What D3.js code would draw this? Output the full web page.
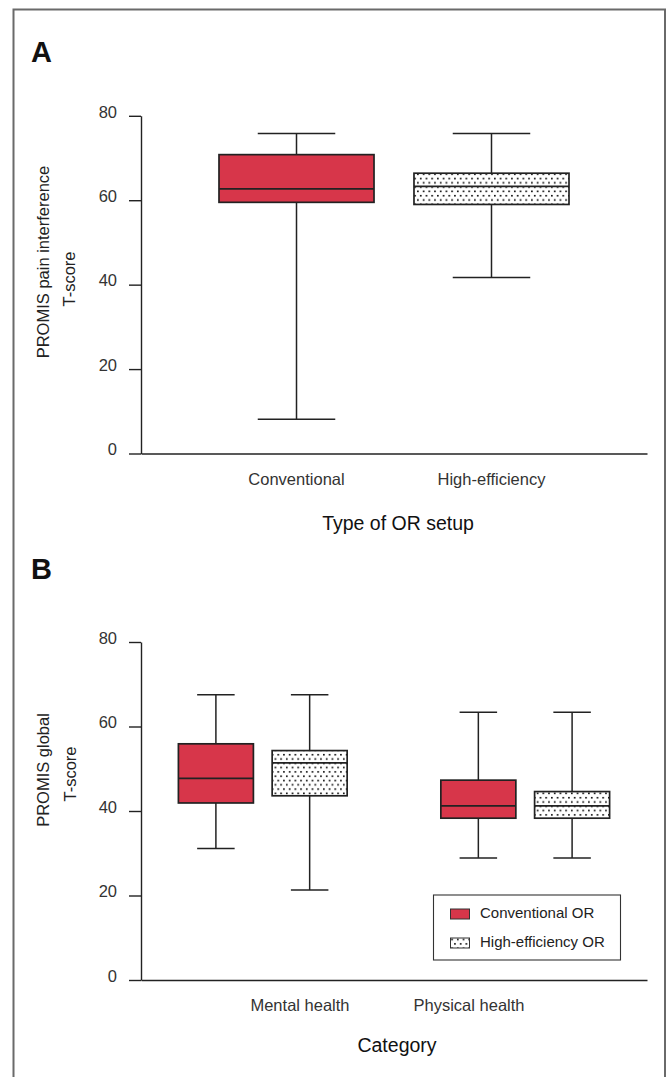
<!DOCTYPE html>
<html>
<head>
<meta charset="utf-8">
<script src="https://cdn.jsdelivr.net/npm/d3@7"></script>
<style>
  html, body { margin: 0; padding: 0; background: #fff; }
  svg { display: block; font-family: "Liberation Sans", Arial, Helvetica, sans-serif; }
</style>
</head>
<body>
<svg id="chart" width="669" height="1077"></svg>
<script>
// ---------- Data ----------
const yTicks = [0, 20, 40, 60, 80];

// Panel A: PROMIS pain interference T-score by OR setup
const panelACategories = ["Conventional", "High-efficiency"];
const panelAMin    = [8.1, 41.7];
const panelAQ1     = [59.5, 59.0];
const panelAMedian = [62.7, 63.3];
const panelAQ3     = [70.8, 66.4];
const panelAMax    = [75.8, 75.8];

// Panel B: PROMIS global T-score by category
const panelBCategories = ["Mental health", "Physical health"];
const panelBSeries = ["Conventional OR", "High-efficiency OR"];
const convMin    = [31.1, 28.9];
const convQ1     = [41.9, 38.3];
const convMedian = [47.7, 41.2];
const convQ3     = [55.9, 47.3];
const convMax    = [67.5, 63.4];
const heMin      = [21.3, 28.9];
const heQ1       = [43.6, 38.3];
const heMedian   = [51.4, 41.2];
const heQ3       = [54.3, 44.6];
const heMax      = [67.5, 63.4];

// ---------- Styles ----------
const RED = "#d7364a";
const INK = "#222";
const svg = d3.select("#chart");

// dotted pattern
const defs = svg.append("defs");
const pat = defs.append("pattern")
  .attr("id", "dots").attr("patternUnits", "userSpaceOnUse")
  .attr("width", 5.7).attr("height", 8.6);
pat.append("rect").attr("width", 5.7).attr("height", 8.6).attr("fill", "#fff");
pat.append("rect").attr("x", 1).attr("y", 1.4).attr("width", 1.6).attr("height", 1.6).attr("fill", "#000");
pat.append("rect").attr("x", 3.85).attr("y", 5.7).attr("width", 1.6).attr("height", 1.6).attr("fill", "#000");

// frame (open at the bottom)
svg.append("path")
  .attr("d", "M13.5,1077 V9.5 H665 V1077")
  .attr("fill", "none").attr("stroke", "#6a6a6a").attr("stroke-width", 2);

function fillFor(seriesIndex) { return seriesIndex === 0 ? RED : "url(#dots)"; }

function drawYAxis(g, y, x0) {
  const ax = g.append("g").attr("transform", `translate(${x0},0)`)
    .call(d3.axisLeft(y).tickValues(yTicks).tickSize(12).tickSizeOuter(0).tickPadding(12));
  ax.select(".domain").attr("stroke", INK).attr("stroke-width", 1.4);
  ax.selectAll(".tick line").attr("stroke", INK).attr("stroke-width", 1.4);
  ax.selectAll(".tick text").attr("font-size", 16.5).attr("fill", "#333")
    .attr("font-family", "Liberation Sans, Arial, sans-serif").attr("y", -4);
}

function drawXAxis(g, x, y0) {
  const ax = g.append("g").attr("transform", `translate(0,${y0})`)
    .call(d3.axisBottom(x).tickSize(0).tickSizeOuter(0).tickFormat(""));
  ax.select(".domain").attr("stroke", INK).attr("stroke-width", 1.4);
  ax.selectAll(".tick").remove();
}

function drawBox(g, cx, w, y, mn, q1, md, q3, mx, fill) {
  const cap = w / 2;
  g.append("line").attr("x1", cx).attr("x2", cx).attr("y1", y(mx)).attr("y2", y(mn))
    .attr("stroke", INK).attr("stroke-width", 1.5);
  g.append("line").attr("x1", cx - cap / 2).attr("x2", cx + cap / 2).attr("y1", y(mx)).attr("y2", y(mx))
    .attr("stroke", INK).attr("stroke-width", 1.5);
  g.append("line").attr("x1", cx - cap / 2).attr("x2", cx + cap / 2).attr("y1", y(mn)).attr("y2", y(mn))
    .attr("stroke", INK).attr("stroke-width", 1.5);
  g.append("rect").attr("x", cx - w / 2).attr("width", w)
    .attr("y", y(q3)).attr("height", y(q1) - y(q3))
    .attr("fill", fill).attr("stroke", INK).attr("stroke-width", 1.7);
  g.append("line").attr("x1", cx - w / 2).attr("x2", cx + w / 2).attr("y1", y(md)).attr("y2", y(md))
    .attr("stroke", INK).attr("stroke-width", 1.7);
}

// ---------- Panel A ----------
{
  const g = svg.append("g");
  const y = d3.scaleLinear().domain([0, 80]).range([453.5, 115.8]);
  const x = d3.scaleBand().domain(panelACategories).range([141, 647])
    .paddingInner(0.205).paddingOuter(0.4);

  g.append("text").attr("x", 31).attr("y", 62).attr("font-size", 29).attr("font-weight", "bold")
    .attr("fill", "#111").text("A");

  drawYAxis(g, y, 141);
  drawXAxis(g, x, y(0));

  panelACategories.forEach((c, i) => {
    const cx = x(c) + x.bandwidth() / 2;
    drawBox(g, cx, x.bandwidth(), y, panelAMin[i], panelAQ1[i], panelAMedian[i], panelAQ3[i], panelAMax[i], fillFor(i));
    g.append("text").attr("x", cx).attr("y", 485).attr("text-anchor", "middle")
      .attr("font-size", 16.5).attr("fill", "#333").text(c);
  });

  g.append("text").attr("x", 398).attr("y", 530).attr("text-anchor", "middle")
    .attr("font-size", 19.5).attr("fill", "#111").text("Type of OR setup");

  g.append("text").attr("transform", "translate(48.5,262) rotate(-90)").attr("text-anchor", "middle")
    .attr("font-size", 16.5).attr("fill", "#222").text("PROMIS pain interference");
  g.append("text").attr("transform", "translate(75,279) rotate(-90)").attr("text-anchor", "middle")
    .attr("font-size", 16.5).attr("fill", "#222").text("T-score");
}

// ---------- Panel B ----------
{
  const g = svg.append("g");
  const y = d3.scaleLinear().domain([0, 80]).range([980, 642]);
  const x0 = d3.scaleBand().domain(panelBCategories).range([141, 647])
    .paddingInner(0.357).paddingOuter(0.1425);
  const x1 = d3.scaleBand().domain(panelBSeries).range([0, x0.bandwidth()]).paddingInner(0.2);
  const labelX = d3.scalePoint().domain(panelBCategories).range([300, 469]);

  g.append("text").attr("x", 31).attr("y", 579).attr("font-size", 29).attr("font-weight", "bold")
    .attr("fill", "#111").text("B");

  drawYAxis(g, y, 141);
  drawXAxis(g, x0, y(0));

  const series = [
    [convMin, convQ1, convMedian, convQ3, convMax],
    [heMin, heQ1, heMedian, heQ3, heMax]
  ];
  panelBCategories.forEach((c, i) => {
    panelBSeries.forEach((s, j) => {
      const cx = x0(c) + x1(s) + x1.bandwidth() / 2;
      const d = series[j];
      drawBox(g, cx, x1.bandwidth(), y, d[0][i], d[1][i], d[2][i], d[3][i], d[4][i], fillFor(j));
    });
    g.append("text").attr("x", labelX(c)).attr("y", 1010.5).attr("text-anchor", "middle")
      .attr("font-size", 16.5).attr("fill", "#333").text(c);
  });

  g.append("text").attr("x", 397).attr("y", 1052).attr("text-anchor", "middle")
    .attr("font-size", 19.5).attr("fill", "#111").text("Category");

  g.append("text").attr("transform", "translate(48.5,770) rotate(-90)").attr("text-anchor", "middle")
    .attr("font-size", 16.5).attr("fill", "#222").text("PROMIS global");
  g.append("text").attr("transform", "translate(76,774) rotate(-90)").attr("text-anchor", "middle")
    .attr("font-size", 16.5).attr("fill", "#222").text("T-score");

  // legend
  const lg = g.append("g");
  lg.append("rect").attr("x", 433.5).attr("y", 895).attr("width", 187).attr("height", 65)
    .attr("fill", "#fff").attr("stroke", "#333").attr("stroke-width", 1.1);
  panelBSeries.forEach((s, j) => {
    const yy = 909 + j * 29;
    lg.append("rect").attr("x", 450.5).attr("y", yy).attr("width", 19).attr("height", 10)
      .attr("fill", fillFor(j)).attr("stroke", "#333").attr("stroke-width", 1);
    lg.append("text").attr("x", 480).attr("y", yy + 9).attr("font-size", 15)
      .attr("fill", "#222").text(s);
  });
}
</script>
</body>
</html>
